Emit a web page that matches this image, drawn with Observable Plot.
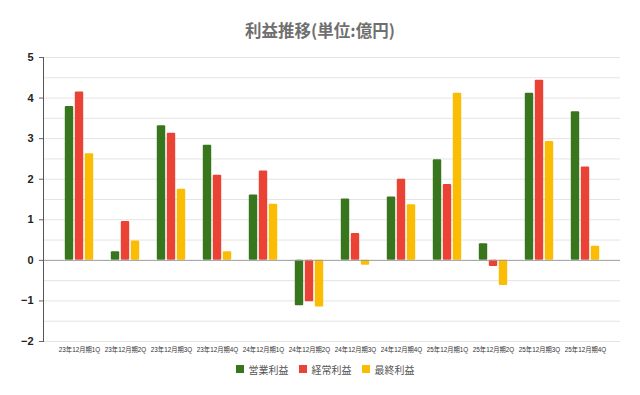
<!DOCTYPE html>
<html><head><meta charset="utf-8">
<script src="https://cdn.jsdelivr.net/npm/d3@7"></script>
<script src="https://cdn.jsdelivr.net/npm/@observablehq/plot@0.6"></script>
<style>
body{margin:0;background:#fff;font-family:"Liberation Sans","Noto Sans CJK JP",sans-serif;}
#title{height:45px;box-sizing:border-box;padding-top:20px;line-height:20px;text-align:center;font-size:16.5px;font-weight:bold;color:#6f6f6f;font-family:"Noto Sans CJK JP",sans-serif;}
#chart svg{display:block;}
</style></head>
<body>
<div id="title">利益推移(単位:億円)</div>
<div id="chart"></div>
<script>
const categories = ["23年12月期1Q","23年12月期2Q","23年12月期3Q","23年12月期4Q","24年12月期1Q","24年12月期2Q","24年12月期3Q","24年12月期4Q","25年12月期1Q","25年12月期2Q","25年12月期3Q","25年12月期4Q"];
const seriesNames = ["営業利益","経常利益","最終利益"];
const operating = [3.79, 0.21, 3.32, 2.84, 1.61, -1.12, 1.51, 1.56, 2.48, 0.41, 4.12, 3.66];
const ordinary  = [4.15, 0.96, 3.13, 2.10, 2.20, -1.02, 0.66, 2.00, 1.87, -0.15, 4.44, 2.30];
const net       = [2.63, 0.48, 1.75, 0.21, 1.38, -1.15, -0.12, 1.37, 4.12, -0.62, 2.93, 0.35];
const colors = ["#38761d","#ea4335","#fbbc04"];
const yTicks = [-2,-1,0,1,2,3,4,5];
const gridValues = [-2,-1.5,-1,-0.5,0.5,1,1.5,2,2.5,3,3.5,4,4.5,5];

const seriesValues = [operating, ordinary, net];
const data = categories.flatMap((c,i) => seriesNames.map((s,k) => ({cat:c, series:s, value:seriesValues[k][i]})));

const plot = Plot.plot({
  width: 640, height: 312,
  marginTop: 12, marginBottom: 16, marginLeft: 43, marginRight: 20,
  style: {fontFamily: '"Liberation Sans","Noto Sans CJK JP",sans-serif', background: "#fff"},
  x: {type: "band", domain: categories, paddingInner: 0, paddingOuter: 0.18, label: null},
  y: {domain: [-2, 5], label: null},
  color: {domain: seriesNames, range: colors},
  marks: [
    Plot.ruleY(gridValues, {stroke: "#e4e4e4", strokeWidth: 1}),
    ...seriesNames.map((s,k) => Plot.barY(data.filter(d => d.series === s), {
      x: "cat", y: "value", fill: "series", dx: (k-1)*10, insetLeft: 18.8, insetRight: 18.8, rx: 1
    })),
    Plot.ruleY([0], {stroke: "#9a9a9a"}),
    Plot.frame({anchor: "left", stroke: "#555"}),
    Plot.axisY(yTicks, {tickSize: 4, tickPadding: 6, fontSize: 11, fontWeight: "bold", fill: "#222", stroke: "#666"}),
    Plot.axisX({tickSize: 0, tickPadding: 6, fontSize: 6.3, fill: "#333"})
  ]
});
document.getElementById("chart").appendChild(plot);
const legend = plot.legend("color", {swatchSize: 8, columns: null});
legend.style.justifyContent = "center";
legend.style.minHeight = "24px";
legend.style.fontSize = "10px";
legend.style.color = "#555";
legend.style.fontFamily = '"Noto Sans CJK JP",sans-serif';
legend.style.marginLeft = "20px";
document.getElementById("chart").appendChild(legend);
</script>
</body></html>
